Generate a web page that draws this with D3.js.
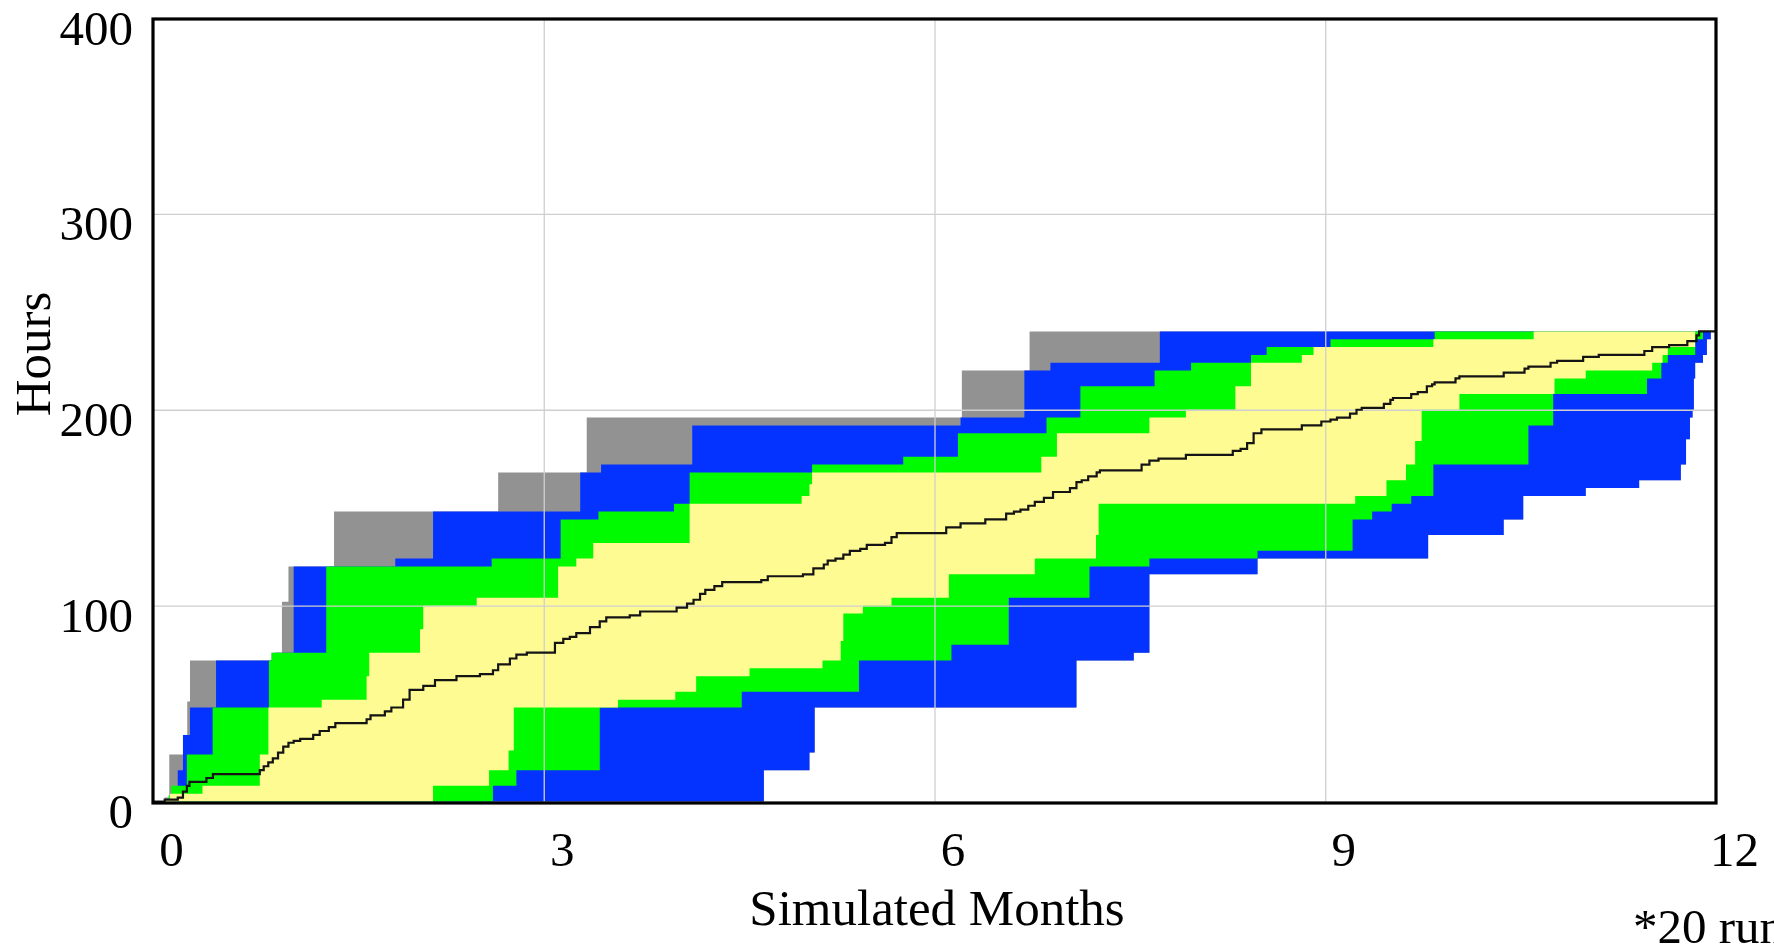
<!DOCTYPE html>
<html>
<head>
<meta charset="utf-8">
<script src="https://cdn.jsdelivr.net/npm/d3@7"></script>
<style>
    html, body { margin: 0; padding: 0; background: #fff; overflow: hidden; }
    svg { display: block; }
    .tick-label { font-family: "Liberation Serif", "Times New Roman", serif; font-size: 49px; fill: #000; }
    .title { font-family: "Liberation Serif", "Times New Roman", serif; font-size: 51px; fill: #000; }
</style>
</head>
<body>
<div class="chart-svg"></div>
<script>
// month, hours pairs (step after each point)
var grayHigh = [[0,0],[0.09,2],[0.125,24],[0.233,33],[0.263,51],[0.284,72],[0.91,76],[0.99,102],[1.04,120],[1.39,148],[2.65,168],[3.33,196],[6.21,220],[6.73,240]];
var blueHigh = [[0,0],[0.14,4],[0.19,16],[0.23,34],[0.284,48],[0.484,72],[0.94,76],[1.08,120],[1.86,124],[2.15,148],[3.28,168],[3.44,172],[4.14,192],[6.2,196],[6.69,220],[6.89,224],[7.73,240]];
var greenHigh = [[0,0],[0.12,3],[0.14,8],[0.26,24],[0.458,48],[0.89,72],[0.91,76],[1.33,120],[2.60,124],[3.13,144],[3.42,148],[4.0,152],[4.12,168],[5.06,172],[5.76,176],[6.18,188],[6.86,196],[7.12,212],[7.69,220],[7.97,224],[8.43,228],[8.55,232],[9.04,236],[9.84,240]];
var yellowHigh = [[0,0],[0.09,1],[0.13,4],[0.38,8],[0.82,24],[0.886,48],[1.295,52],[1.64,64],[1.66,76],[2.05,88],[2.075,100],[2.485,104],[3.11,120],[3.25,124],[3.38,132],[4.12,152],[4.98,156],[5.04,162],[5.06,168],[6.82,176],[6.94,188],[7.65,196],[7.93,200],[8.31,212],[8.43,224],[8.82,228],[8.91,232],[9.83,236],[10.6,240]];

var yellowLow = [[0,0],[2.15,8],[2.58,16],[2.73,26],[2.77,48],[3.57,52],[4.01,56],[4.17,64],[4.58,68],[5.14,72],[5.28,82],[5.30,96],[5.45,100],[5.67,104],[6.11,116],[6.77,124],[7.24,136],[7.26,152],[9.23,156],[9.47,164],[9.62,172],[9.69,184],[9.74,200],[10.03,208],[10.76,216],[11.0,220],[11.51,224],[11.59,228],[11.63,232],[11.84,240]];
var greenLow = [[0,0],[2.61,8],[2.79,16],[3.43,48],[4.52,56],[5.42,72],[6.13,80],[6.57,104],[7.19,120],[7.65,124],[8.48,128],[9.21,144],[9.36,148],[9.51,152],[9.66,156],[9.83,172],[10.56,192],[10.75,208],[11.47,216],[11.58,224],[11.63,228],[11.84,236],[11.9,240]];
var blueLow = [[0,0],[4.69,16],[5.04,25],[5.08,48],[7.09,72],[7.53,76],[7.65,116],[8.48,124],[9.79,136],[10.37,144],[10.52,156],[11.0,160],[11.41,164],[11.73,172],[11.77,185],[11.8,196],[11.82,200],[11.83,216],[11.84,224],[11.9,228],[11.93,236],[11.96,240]];

var meanLine = [[0,0],[0.09,1],[0.19,2],[0.23,5],[0.26,8],[0.28,10],[0.41,12],[0.46,14],[0.82,16],[0.85,18],[0.885,20],[0.92,22],[0.96,25],[1.0,28],[1.04,30],[1.08,31],[1.13,32],[1.23,34],[1.28,36],[1.35,38],[1.40,40],[1.64,42],[1.67,44],[1.78,46],[1.83,48],[1.92,52],[1.97,57],[2.075,59],[2.165,62],[2.33,64],[2.51,65],[2.61,67],[2.65,70],[2.74,73],[2.79,75],[2.87,76],[3.086,81],[3.15,83],[3.20,84],[3.25,86],[3.355,89],[3.43,92],[3.48,94],[3.66,95],[3.74,97],[4.02,99],[4.10,101],[4.15,103],[4.20,106],[4.24,108],[4.31,110],[4.37,112],[4.67,113],[4.72,115],[4.99,116],[5.07,119],[5.15,121],[5.18,123],[5.24,124],[5.30,126],[5.35,128],[5.43,129],[5.48,131],[5.62,132],[5.67,135],[5.71,137],[6.09,140],[6.20,142],[6.39,144],[6.55,147],[6.61,148],[6.66,149],[6.72,151],[6.77,153],[6.84,155],[6.91,158],[7.04,160],[7.09,163],[7.13,164],[7.18,166],[7.245,168],[7.27,169],[7.59,172],[7.65,174],[7.72,175],[7.93,177],[8.29,179],[8.35,180],[8.40,183],[8.45,188],[8.51,190],[8.82,192],[8.97,194],[9.04,195],[9.09,196],[9.19,198],[9.24,200],[9.28,201],[9.45,203],[9.50,205],[9.52,206],[9.66,208],[9.71,209],[9.78,212],[9.82,213],[9.84,214],[10.0,216],[10.03,217],[10.37,219],[10.53,221],[10.56,222],[10.73,224],[10.78,225],[10.98,227],[11.10,228],[11.45,230],[11.51,232],[11.64,233],[11.78,235],[11.85,238],[11.87,240],[12,240]];

var xTicks = [0, 3, 6, 9, 12];
var yTicks = [0, 100, 200, 300, 400];
var xTitle = "Simulated Months";
var yTitle = "Hours";
var noteText = "*20 runs";

var svgWidth = 1774;
var svgHeight = 948;
var padding = {top:18, right:58, bottom:146, left:153};

var svg = d3.select(".chart-svg")
        .append("svg")
        .attr("width", svgWidth)
        .attr("height", svgHeight);

var xScale = d3.scaleLinear()
    .domain([0, 12])
    .range([padding.left, svgWidth - padding.right]);

var yScale = d3.scaleLinear()
    .domain([0, 400])
    .range([svgHeight - padding.bottom - 0.5, padding.top]);

function stepAt(series, m){
    var v = series[0][1];
    for (var i = 0; i < series.length; i++){
        if (series[i][0] <= m) v = series[i][1];
        else break;
    };
    return v;
};

function bandData(low, high){
    var xs = low.map(function(d){return d[0];}).concat(high.map(function(d){return d[0];}));
    xs.push(12);
    xs = Array.from(new Set(xs)).sort(function(a, b){return a - b;});
    return xs.map(function(m){
        return {m: m, lo: stepAt(low, m), hi: stepAt(high, m)};
    });
};

var area = d3.area()
    .curve(d3.curveStepAfter)
    .x(function(d){return xScale(d.m);})
    .y0(function(d){return yScale(d.lo);})
    .y1(function(d){return yScale(d.hi);});

var bands = [
    {low: blueLow, high: grayHigh, color: "#929292"},
    {low: blueLow, high: blueHigh, color: "#0433ff"},
    {low: greenLow, high: greenHigh, color: "#00fa00"},
    {low: yellowLow, high: yellowHigh, color: "#fffb93"}
];

var plot = svg.append("g").attr("class", "plot");

plot.selectAll("path.band")
    .data(bands)
    .enter()
    .append("path")
    .attr("class", "band")
    .attr("d", function(d){return area(bandData(d.low, d.high));})
    .attr("fill", function(d){return d.color;});

// grid lines sit on top of the bands
var xGrid = d3.axisBottom(xScale).tickValues([3, 6, 9]).tickSize(-(yScale(0) - yScale(400))).tickFormat("");
var yGrid = d3.axisLeft(yScale).tickValues([100, 200, 300]).tickSize(-(xScale(12) - xScale(0))).tickFormat("");

plot.append("g")
    .attr("transform", "translate(0," + yScale(0) + ")")
    .call(xGrid)
    .call(function(g){ g.select(".domain").remove(); })
    .selectAll("line").attr("stroke", "#cfcfcf").attr("stroke-width", 1.3);

plot.append("g")
    .attr("transform", "translate(" + xScale(0) + ",0)")
    .call(yGrid)
    .call(function(g){ g.select(".domain").remove(); })
    .selectAll("line").attr("stroke", "#cfcfcf").attr("stroke-width", 1.3);

var line = d3.line()
    .curve(d3.curveStepAfter)
    .x(function(d){return xScale(d[0]);})
    .y(function(d){return yScale(d[1]);});

plot.append("path")
    .datum(meanLine)
    .attr("d", line)
    .attr("fill", "none")
    .attr("stroke", "#141414")
    .attr("stroke-width", 2.2);

// frame
plot.append("rect")
    .attr("x", xScale(0))
    .attr("y", padding.top + 1)
    .attr("width", xScale(12) - xScale(0))
    .attr("height", svgHeight - padding.bottom - padding.top)
    .attr("fill", "none")
    .attr("stroke", "#000")
    .attr("stroke-width", 3.2);

// tick labels
var xAxis = d3.axisBottom(xScale).tickValues(xTicks).tickSize(0).tickFormat(d3.format("d"));
var yAxis = d3.axisLeft(yScale).tickValues(yTicks).tickSize(0).tickPadding(20).tickFormat(d3.format("d"));

plot.append("g")
    .attr("transform", "translate(0," + yScale(0) + ")")
    .call(xAxis)
    .call(function(g){ g.select(".domain").remove(); })
    .selectAll("text")
    .attr("class", "tick-label")
    .attr("x", 18)
    .attr("y", 64)
    .attr("dy", null);

plot.append("g")
    .attr("transform", "translate(" + xScale(0) + ",0)")
    .call(yAxis)
    .call(function(g){ g.select(".domain").remove(); })
    .selectAll("text")
    .attr("class", "tick-label")
    .attr("y", 26)
    .attr("dy", null);

svg.selectAll(".tick text").attr("fill", null);
svg.selectAll("g.tick").each(function(){ d3.select(this.parentNode).attr("font-size", null).attr("font-family", null); });

svg.append("text")
    .attr("class", "title")
    .attr("x", 937)
    .attr("y", 925)
    .attr("text-anchor", "middle")
    .text(xTitle);

svg.append("text")
    .attr("class", "title")
    .attr("transform", "translate(50,354) rotate(-90)")
    .attr("text-anchor", "middle")
    .text(yTitle);

// the note runs past the right edge, as in the original
svg.append("text")
    .attr("class", "tick-label")
    .attr("x", 1633)
    .attr("y", 943)
    .text(noteText);
</script>
</body>
</html>
